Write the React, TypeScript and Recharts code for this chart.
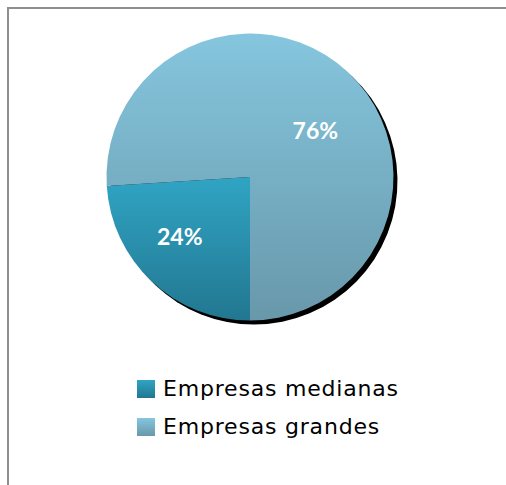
import React from 'react';
import { PieChart, Pie, Cell, Legend } from 'recharts';

const categories = ['Empresas medianas', 'Empresas grandes'];
const values = [24, 76];
const percentLabels = ['24%', '76%'];

const data = categories.map((name, i) => ({ name, value: values[i], label: percentLabels[i] }));

const GRADIENT_IDS = ['gradMed', 'gradGrand'];
const LABEL_RADIUS = [0.64, 0.56];
const LABEL_ANGLE_SHIFT = [-6.7, -11.2];
const RAD = Math.PI / 180;

const renderLabel = (props: any) => {
  const { cx, cy, midAngle, outerRadius, index } = props;
  const a = midAngle + LABEL_ANGLE_SHIFT[index];
  const r = outerRadius * LABEL_RADIUS[index];
  const x = cx + r * Math.cos(-a * RAD);
  const y = cy + r * Math.sin(-a * RAD);
  return (
    <text
      x={x}
      y={y}
      fill="#ffffff"
      textAnchor="middle"
      dominantBaseline="central"
      style={{ fontFamily: 'Lato', fontWeight: 700, fontSize: 23 }}
    >
      {data[index].label}
    </text>
  );
};

const renderLegend = () => {
  return (
    <div>
      {categories.map((name, i) => (
        <div key={name} style={{ display: 'flex', alignItems: 'center', height: 38.3 }}>
          <svg width={18} height={18} style={{ display: 'block' }}>
            <rect x={0} y={0} width={18} height={18} fill={`url(#${GRADIENT_IDS[i]})`} />
          </svg>
          <span
            style={{
              marginLeft: 8,
              fontFamily: 'DejaVu Sans',
              fontSize: 22,
              letterSpacing: 0.8,
              color: '#000',
              lineHeight: '18px',
            }}
          >
            {name}
          </span>
        </div>
      ))}
    </div>
  );
};

export default function App() {
  return (
    <div style={{ position: 'fixed', left: 0, top: 0, width: 506, height: 485, overflow: 'hidden', background: '#fff' }}>
      <div
        style={{
          position: 'absolute',
          left: 7,
          top: 7,
          width: 499,
          height: 478,
          borderTop: '2px solid #8e8e8e',
          borderLeft: '2px solid #8e8e8e',
          boxSizing: 'border-box',
        }}
      />
      <div style={{ position: 'absolute', left: 0, top: 0 }}>
        <PieChart width={506} height={485} margin={{ top: 0, right: 0, bottom: 0, left: 0 }}>
          <defs>
            <linearGradient id="gradMed" x1="0" y1="0" x2="0" y2="1">
              <stop offset="0%" stopColor="#30a4c4" />
              <stop offset="100%" stopColor="#227790" />
            </linearGradient>
            <linearGradient id="gradGrand" x1="0" y1="0" x2="0" y2="1">
              <stop offset="0%" stopColor="#85c6de" />
              <stop offset="100%" stopColor="#6898aa" />
            </linearGradient>
          </defs>
          <Pie
            data={data}
            dataKey="value"
            nameKey="name"
            cx={254}
            cy={181}
            outerRadius={143.5}
            startAngle={-90}
            endAngle={-450}
            fill="#000"
            stroke="none"
            legendType="none"
            label={false}
            labelLine={false}
            isAnimationActive={false}
          />
          <Pie
            data={data}
            dataKey="value"
            nameKey="name"
            cx={250}
            cy={177}
            outerRadius={143.5}
            startAngle={-90}
            endAngle={-450}
            stroke="none"
            legendType="square"
            label={renderLabel}
            labelLine={false}
            isAnimationActive={false}
          >
            {data.map((d, i) => (
              <Cell key={d.name} fill={`url(#${GRADIENT_IDS[i]})`} />
            ))}
          </Pie>
          <Legend
            content={renderLegend}
            wrapperStyle={{ position: 'absolute', left: 137, top: 370, width: 320 }}
          />
        </PieChart>
      </div>
    </div>
  );
}
